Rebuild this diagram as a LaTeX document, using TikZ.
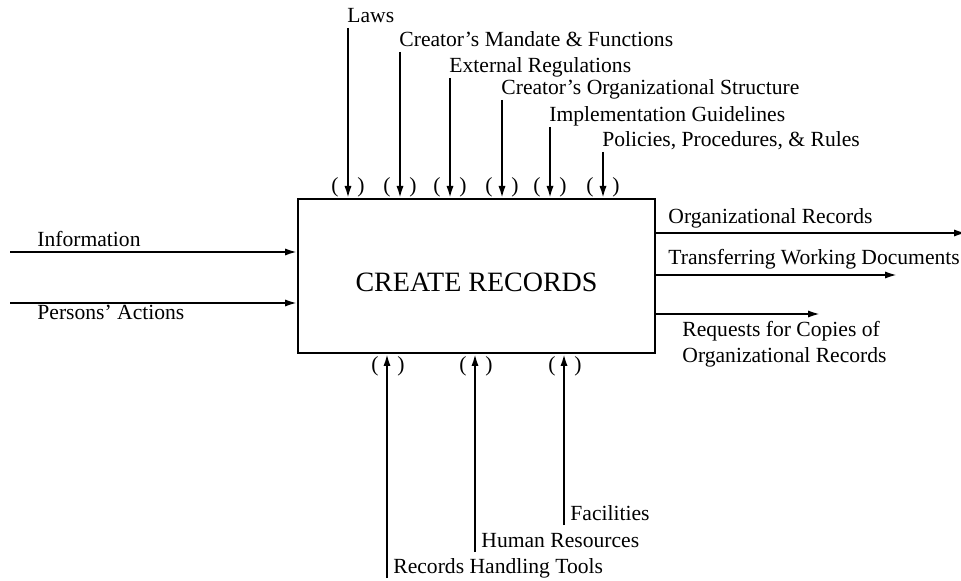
\documentclass[tikz,border=0pt]{standalone}
\usepackage{fontspec}
\setmainfont{Liberation Serif}
\usetikzlibrary{arrows.meta}

\begin{document}
\begin{tikzpicture}[x=0.5pt,y=-0.5pt,
        lbl/.style={font=\fontsize{10.8}{13}\selectfont, inner sep=0pt},
        tun/.style={font=\fontsize{10.8}{13}\selectfont, inner sep=0pt},
        arr/.style={line width=1pt, -{Latex[length=6pt,width=3.6pt]}}]
        % Fix the page size
        \useasboundingbox (0,0) rectangle (961,581);
        % Draw the activity box
        \node[draw, line width=1pt, minimum width=178.5pt, minimum height=77pt] (create) at (476.5,276) {};
        \node[font=\fontsize{14}{16}\selectfont] (title) at ([yshift=-3pt]create.center) {CREATE RECORDS};
        % Inputs from the left
        \coordinate (info) at (10,252);
        \coordinate (acts) at (10,303);
        \draw[arr] (info) -- (info -| create.west);
        \draw[arr] (acts) -- (acts -| create.west);
        \node[lbl, anchor=base west] (infolbl) at (37,247) {Information};
        \node[lbl, anchor=base west] (actslbl) at (37,320) {Persons' Actions};
        % Controls from above, each with its tunnel
        \foreach \x/\yt/\txt [count=\i] in {348/28/Laws, 400/52/{Creator's Mandate \& Functions},
                450/78/External Regulations, 502/100/{Creator's Organizational Structure},
                550/127/Implementation Guidelines, 603/152/{Policies, Procedures, \& Rules}} {
            \coordinate (ctl\i) at (\x,\yt);
            \draw[arr] (ctl\i) -- (ctl\i |- create.north);
            \node[lbl, anchor=base west] (ctllbl\i) at (\x-1,\yt-5) {\txt};
            \node[tun] (ctlpl\i) at (\x-13,187) {(};
            \node[tun] (ctlpr\i) at (\x+13,187) {)};
        }
        % Outputs to the right
        \coordinate (orgrec) at (966,233);
        \coordinate (trans) at (897,275);
        \coordinate (req) at (820,314);
        \draw[arr] (orgrec -| create.east) -- (orgrec);
        \draw[arr] (trans -| create.east) -- (trans);
        \draw[arr] (req -| create.east) -- (req);
        \node[lbl, anchor=base west] (orgreclbl) at (668,224) {Organizational Records};
        \node[lbl, anchor=base west] (translbl) at (668,265) {Transferring Working Documents};
        \node[lbl, anchor=base west, align=left] (reqlbl) at (682,363) {Requests for Copies of\\Organizational Records};
        % Mechanisms from below, each with its tunnel
        \foreach \x/\yb/\txt [count=\i] in {387/578/Records Handling Tools, 475/552/Human Resources, 564/525/Facilities} {
            \coordinate (mech\i) at (\x,\yb);
            \draw[arr] (mech\i) -- (mech\i |- create.south);
            \node[lbl, anchor=base west] (mechlbl\i) at (\x+6,\yb-5) {\txt};
            \node[tun] (mechpl\i) at (\x-12,366) {(};
            \node[tun] (mechpr\i) at (\x+14,366) {)};
        }
\end{tikzpicture}
\end{document}
